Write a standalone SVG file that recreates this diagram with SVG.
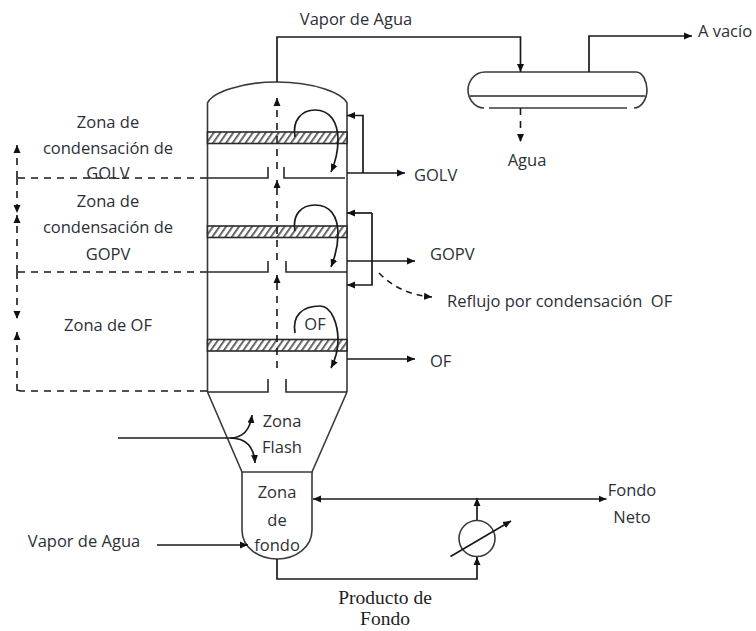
<svg xmlns="http://www.w3.org/2000/svg" width="756" height="631" viewBox="0 0 756 631">
<style>
.s{fill:none;stroke:#2a2a2a;stroke-width:1.6}
.w{fill:none;stroke:#3a3a3a;stroke-width:1.6}
.c{fill:none;stroke:#1a1a1a;stroke-width:1.7}
.a{marker-end:url(#ah)}
.d{fill:none;stroke:#1a1a1a;stroke-width:1.6;stroke-dasharray:7 6}
.t{font-family:"Open Sans","Noto Sans",sans-serif;font-size:16.5px;fill:#2b3038;text-anchor:middle;dominant-baseline:central}
.l{text-anchor:start}
.r{font-family:"Liberation Serif",serif;font-size:19.500px;fill:#222;text-anchor:middle;dominant-baseline:central}
.tray{fill:url(#hatch);stroke:#2a2a2a;stroke-width:1.6}
</style>
<defs>
<marker id="ah" markerUnits="userSpaceOnUse" markerWidth="9" markerHeight="8" refX="8" refY="4" orient="auto"><path d="M0 0.5L8 4L0 7.5z" fill="#111"/></marker>
<pattern id="hatch" patternUnits="userSpaceOnUse" width="6.5" height="12" patternTransform="skewX(-35)"><rect width="6.500" height="12" fill="#fff"/><rect width="2.400" height="12" fill="#666"/></pattern>
</defs>
<rect width="756" height="631" fill="#fff"/>
<g id="columna">
<path class="w" d="M207.500 392V103C212 93 240 82 277 82S342 93 347 103V392"/>
<path class="w" d="M207.500 392L242 472H312L347 392"/>
</g>
<g id="plato-1"><rect class="tray" x="207.500" y="132" width="139.500" height="11.500"/><path class="s" d="M207.500 178H268V167M284 167V178H345"/></g>
<g id="plato-2"><rect class="tray" x="207.500" y="226" width="139.500" height="11.500"/><path class="s" d="M207.500 272H268V261M286 261V272H347"/></g>
<g id="plato-3"><rect class="tray" x="207.500" y="339.500" width="139.500" height="11.500"/><path class="s" d="M207.500 392H268V379M286 379V392H347"/></g>
<g id="fondo"><path class="w" d="M242 472V530C242 547 258 559 277 559S312 547 312 530V472"/></g>
<g id="acumulador">
<path class="w" d="M485 72H636M484 108C474 108 468 98 468 90C468 82 474 72 485 72M489 108H627M634 108C642 108 647 98 647 90C647 82 643 72 636 72"/>
<path class="s" d="M470 96H645"/>
</g>
<g id="intercambiador">
<circle class="w" cx="477" cy="538.500" r="18"/>
</g>
<g id="conectores">
<path class="c a" d="M277 82V37H520.500V72"/>
<path class="c a" d="M589 72V36H692"/>
<path class="d a" d="M520.500 108V142"/>
<path class="d a" d="M277 169V98"/>
<path class="d a" d="M277 260V180"/>
<path class="d a" d="M277 368V275"/>
<path class="d a" d="M17 178V145"/>
<path class="d a" d="M17 178V213"/>
<path class="d a" d="M17 272V215"/>
<path class="d a" d="M17 272V319"/>
<path class="d a" d="M17 391V332"/>
<path class="d" d="M207 178H17M207 272H17M207 391H21Q17 391 17 387"/>
<path class="c a" d="M295 137C292 120 302 110 315 110C330 110 338 122 338 140C338 150 335 163 331 172"/>
<path class="c a" d="M295 231C292 214 302 205 315 205C330 205 338 216 338 234C338 245 335 257 331 267"/>
<path class="c a" d="M295 333C292 316 302 306 320 306C332 306 338 325 338 340C338 350 335 360 331 368"/>
<path class="c a" d="M347 173H405"/>
<path class="c a" d="M363 173V115.500H347"/>
<path class="c a" d="M347 261H415"/>
<path class="c a" d="M372 213H347"/>
<path class="c a" d="M372 213V285H347"/>
<path class="c a" d="M347 359H415"/>
<path class="d a" style="stroke-dasharray:6 5" d="M379 273C392 286 408 295 432 297"/>
<path class="c" d="M118 438H230"/>
<path class="c a" d="M230 438C243 438 250 430 252 415"/>
<path class="c a" d="M230 438C245 438 254 446 255 463"/>
<path class="c a" d="M157 545H248"/>
<path class="c a" d="M277 559V579H477V557"/>
<path class="c a" d="M477 520V498"/>
<path class="c a" d="M450.500 556.500L511 521"/>
<path class="c a" d="M400 499H606.500"/>
<path class="c a" d="M400 499H313"/>
</g>
<g id="textos">
<text class="t" x="356" y="18">Vapor de Agua</text>
<text class="t" x="725" y="30">A vacío</text>
<text class="t" x="527" y="159">Agua</text>
<text class="t" x="108" y="121">Zona de</text>
<text class="t" x="108" y="147">condensación de</text>
<text class="t" x="108" y="172">GOLV</text>
<text class="t" x="108" y="200">Zona de</text>
<text class="t" x="108" y="226">condensación de</text>
<text class="t" x="108" y="253">GOPV</text>
<text class="t" x="108" y="324">Zona de OF</text>
<text class="t" x="315" y="323">OF</text>
<text class="t l" x="414" y="174">GOLV</text>
<text class="t l" x="430" y="253">GOPV</text>
<text class="t l" x="447" y="300" xml:space="preserve">Reflujo por condensación  OF</text>
<text class="t l" x="430" y="360">OF</text>
<text class="t" x="282" y="420">Zona</text>
<text class="t" x="282" y="446">Flash</text>
<text class="t" x="277" y="491">Zona</text>
<text class="t" x="277" y="519">de</text>
<text class="t" x="277" y="544">fondo</text>
<text class="t" x="632" y="489">Fondo</text>
<text class="t" x="632" y="516">Neto</text>
<text class="t" x="84" y="540">Vapor de Agua</text>
<text class="r" x="385" y="597">Producto de</text>
<text class="r" x="385" y="618">Fondo</text>
</g>
</svg>
